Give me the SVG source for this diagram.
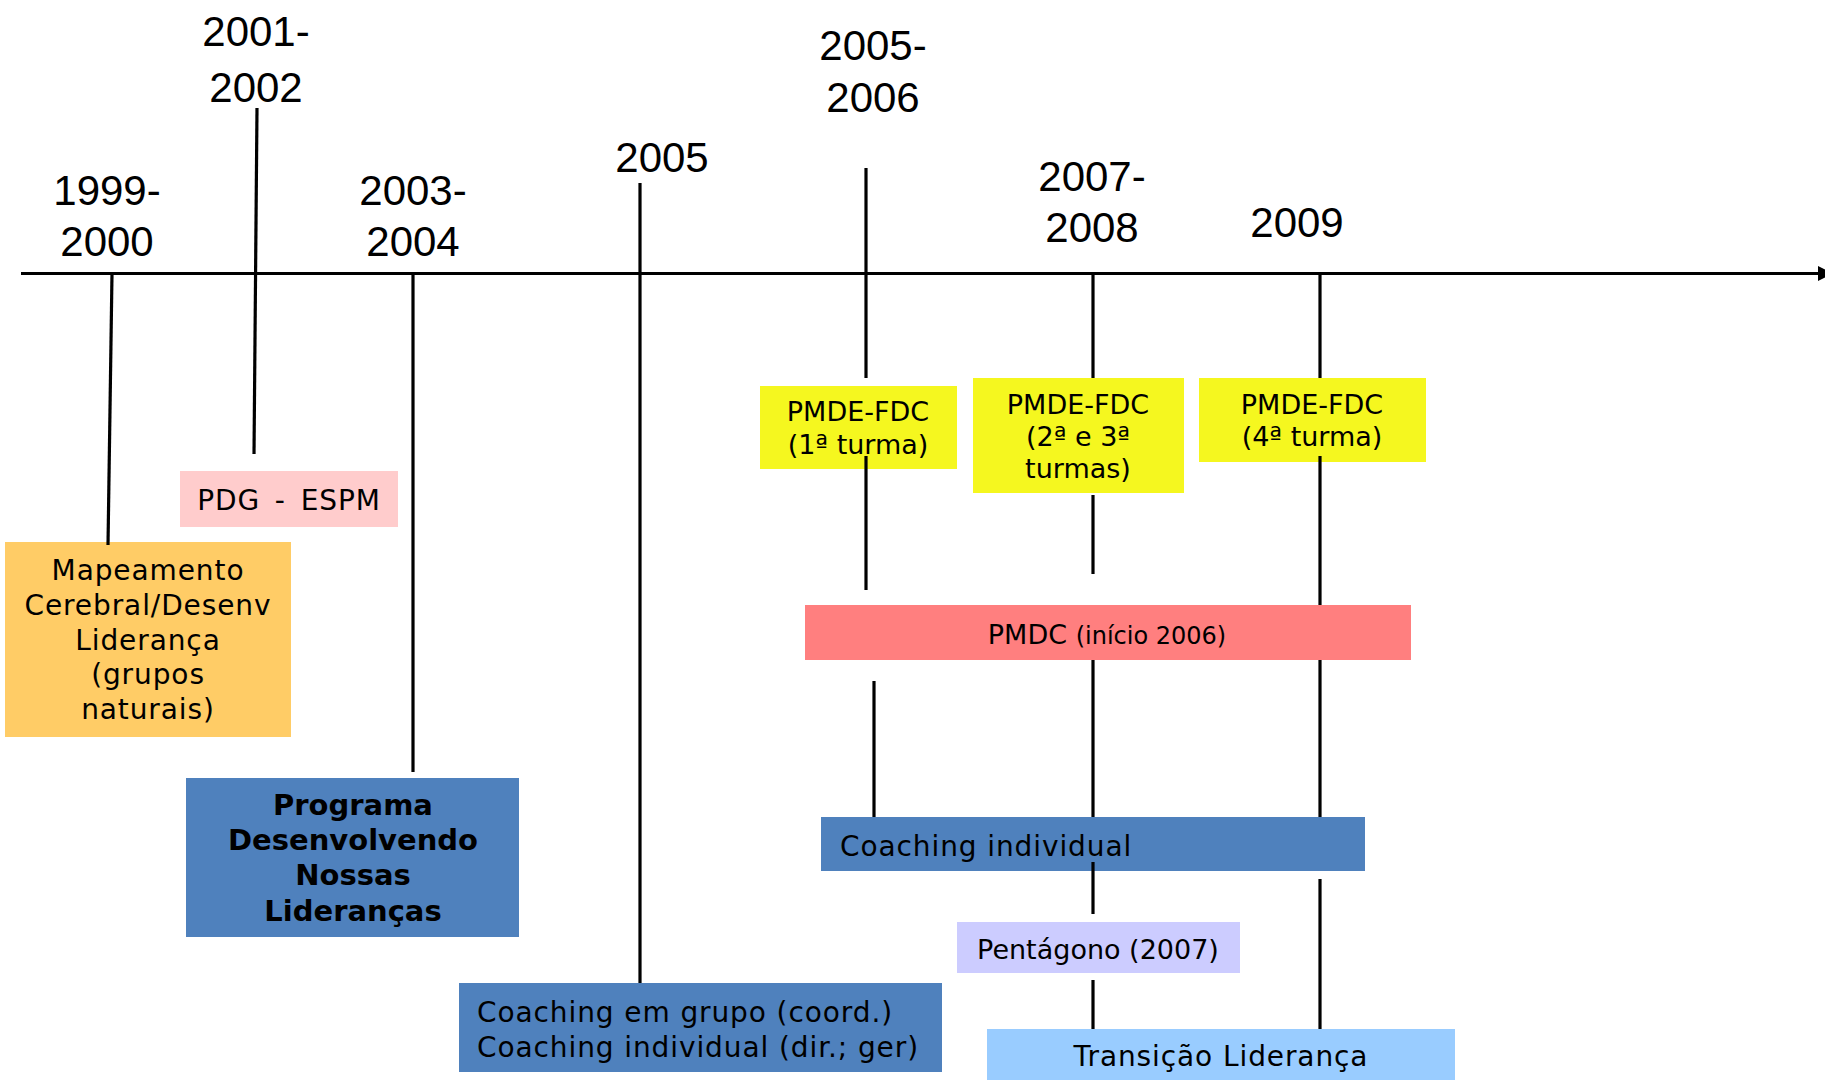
<svg xmlns="http://www.w3.org/2000/svg" width="1825" height="1080" viewBox="0 0 1825 1080">
<style>
.yr{font-family:"Liberation Sans",Arial,sans-serif;font-size:42px;fill:#000;text-anchor:middle}
.t{font-family:"DejaVu Sans",Verdana,sans-serif;font-size:27px;fill:#000}
.w{font-size:28px;letter-spacing:0.9px}
.c{text-anchor:middle}
.b{font-weight:bold;font-size:29px}
.ln{stroke:#000;stroke-width:3.2;fill:none}
</style>
<defs>
<marker id="arr" viewBox="0 0 15 15" refX="0" refY="7.5" markerWidth="15" markerHeight="15" orient="auto" markerUnits="userSpaceOnUse">
<path d="M0,0 L15,7.5 L0,15 z" fill="#000"/>
</marker>
</defs>
<rect width="1825" height="1080" fill="#fff"/>

<g id="years">
<text class="yr" x="107" y="205">1999-</text><text class="yr" x="107" y="256">2000</text>
<text class="yr" x="256" y="46">2001-</text><text class="yr" x="256" y="102">2002</text>
<text class="yr" x="413" y="205">2003-</text><text class="yr" x="413" y="256">2004</text>
<text class="yr" x="662" y="172">2005</text>
<text class="yr" x="873" y="60">2005-</text><text class="yr" x="873" y="112">2006</text>
<text class="yr" x="1092" y="191">2007-</text><text class="yr" x="1092" y="242">2008</text>
<text class="yr" x="1297" y="237">2009</text>
</g>

<g id="mapeamento">
<rect x="5" y="542" width="286" height="195" fill="#FFCC66"/>
<text class="t w c" x="148"><tspan x="148" y="580">Mapeamento</tspan><tspan x="148" y="615">Cerebral/Desenv</tspan><tspan x="148" y="650">Liderança</tspan><tspan x="148" y="684">(grupos</tspan><tspan x="148" y="719">naturais)</tspan></text>
</g>

<g id="pdg">
<rect x="180" y="471" width="218" height="56" fill="#FFCCCC"/>
<text class="t w c" x="289" y="510" word-spacing="5">PDG - ESPM</text>
</g>

<g id="programa">
<rect x="186" y="778" width="333" height="159" fill="#4F81BD"/>
<text class="t c b" x="353"><tspan x="353" y="815">Programa</tspan><tspan x="353" y="850">Desenvolvendo</tspan><tspan x="353" y="885">Nossas</tspan><tspan x="353" y="921">Lideranças</tspan></text>
</g>

<g id="coaching-grupo">
<rect x="459" y="983" width="483" height="89" fill="#4F81BD"/>
<text class="t w" x="477"><tspan x="477" y="1022">Coaching em grupo (coord.)</tspan><tspan x="477" y="1057">Coaching individual (dir.; ger)</tspan></text>
</g>

<g id="pmde1">
<rect x="760" y="386" width="197" height="83" fill="#F5F71F"/>
<text class="t c" x="858"><tspan x="858" y="421">PMDE-FDC</tspan><tspan x="858" y="454">(1ª turma)</tspan></text>
</g>

<g id="pmde2">
<rect x="973" y="378" width="211" height="115" fill="#F5F71F"/>
<text class="t c" x="1078"><tspan x="1078" y="414">PMDE-FDC</tspan><tspan x="1078" y="446">(2ª e 3ª</tspan><tspan x="1078" y="478">turmas)</tspan></text>
</g>

<g id="pmde4">
<rect x="1199" y="378" width="227" height="84" fill="#F5F71F"/>
<text class="t c" x="1312"><tspan x="1312" y="414">PMDE-FDC</tspan><tspan x="1312" y="446">(4ª turma)</tspan></text>
</g>

<g id="pmdc">
<rect x="805" y="605" width="606" height="55" fill="#FF7F7F"/>
<text class="t c" x="1107" y="644" font-size="28">PMDC <tspan font-size="24">(início 2006)</tspan></text>
</g>

<g id="coaching-individual">
<rect x="821" y="817" width="544" height="54" fill="#4F81BD"/>
<text class="t w" x="840" y="856" letter-spacing="0.6">Coaching individual</text>
</g>

<g id="pentagono">
<rect x="957" y="922" width="283" height="51" fill="#CCCCFF"/>
<text class="t c" x="1098" y="959">Pentágono (2007)</text>
</g>

<g id="transicao">
<rect x="987" y="1029" width="468" height="51" fill="#99CCFF"/>
<text class="t w c" x="1221" y="1066" letter-spacing="0.8">Transição Liderança</text>
</g>

<g id="connectors">
<line class="ln" x1="21" y1="273.5" x2="1818" y2="273.5" marker-end="url(#arr)"/>
<line class="ln" x1="112" y1="273.5" x2="108" y2="545"/>
<line class="ln" x1="257" y1="108" x2="254" y2="454"/>
<line class="ln" x1="413" y1="273.5" x2="413" y2="772"/>
<line class="ln" x1="640" y1="183" x2="640" y2="983"/>
<line class="ln" x1="866" y1="168" x2="866" y2="378"/>
<line class="ln" x1="866" y1="456" x2="866" y2="590"/>
<line class="ln" x1="874" y1="681" x2="874" y2="817"/>
<line class="ln" x1="1093" y1="273.5" x2="1093" y2="378"/>
<line class="ln" x1="1093" y1="495" x2="1093" y2="574"/>
<line class="ln" x1="1093" y1="660" x2="1093" y2="817"/>
<line class="ln" x1="1093" y1="862" x2="1093" y2="914"/>
<line class="ln" x1="1093" y1="980" x2="1093" y2="1029"/>
<line class="ln" x1="1320" y1="273.5" x2="1320" y2="378"/>
<line class="ln" x1="1320" y1="456" x2="1320" y2="605"/>
<line class="ln" x1="1320" y1="660" x2="1320" y2="817"/>
<line class="ln" x1="1320" y1="879" x2="1320" y2="1029"/>
</g>
</svg>
